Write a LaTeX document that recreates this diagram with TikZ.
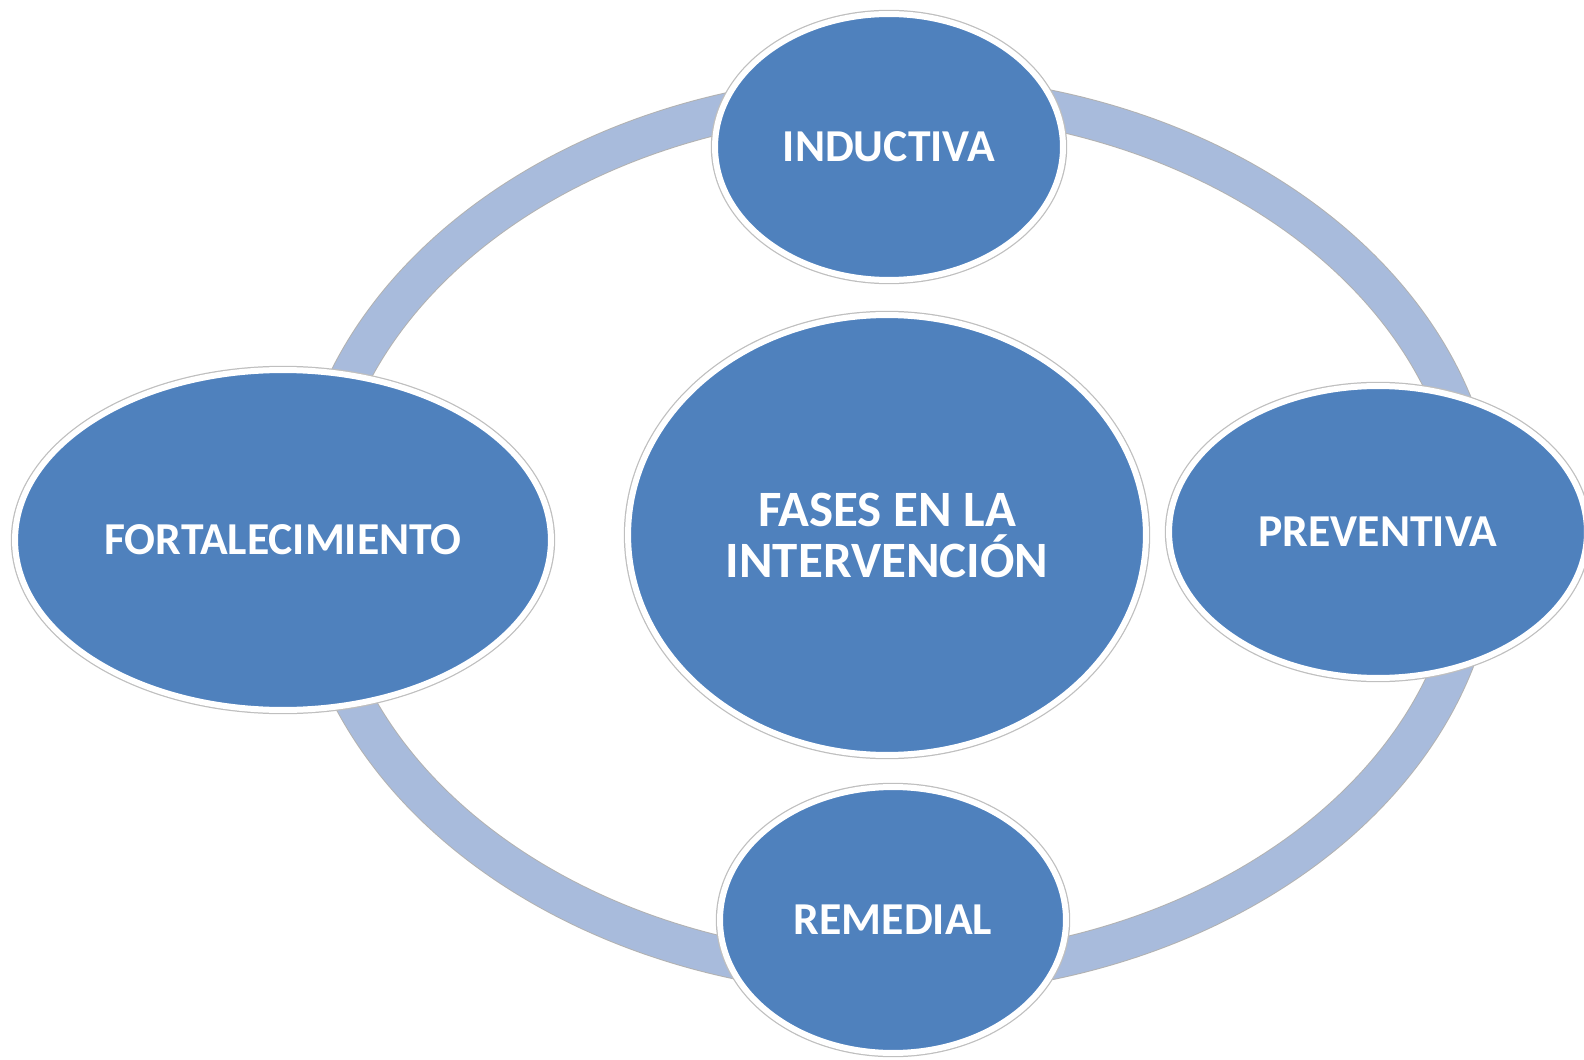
\documentclass[tikz,border=0pt]{standalone}
\usepackage{fontspec}
\setmainfont{Carlito}
\definecolor{PhaseBlue}{RGB}{79, 129, 189}
\definecolor{RingBlue}{RGB}{168, 187, 220}
\usetikzlibrary{positioning, shapes.geometric}

\begin{document}
\begin{tikzpicture}[x=0.02cm, y=-0.02cm,
    phase/.style={ellipse, fill=PhaseBlue, draw=white, line width=0.12cm,
        preaction={draw=black!25, line width=0.17cm},
        inner sep=0pt, text=white, align=center,
        font=\bfseries\fontsize{26}{28}\selectfont}]
    \useasboundingbox (0,0) rectangle (1584,1060);

    % Ring behind the phases
    \draw[RingBlue, line width=0.76cm, preaction={draw=black!30, line width=0.8cm}]
        (895,535) ellipse [x radius=11.68cm, y radius=8.82cm];

    % Phases
    \node[phase, minimum width=10.36cm, minimum height=8.8cm,
        font=\bfseries\fontsize{29}{29}\selectfont] (fases) at (887,535) {FASES EN LA\\INTERVENCIÓN};
    \node[phase, minimum width=6.96cm, minimum height=5.32cm] (ind) at (889,147) {INDUCTIVA};
    \node[phase, minimum width=10.72cm, minimum height=6.8cm] (fort) at (283,540) {FORTALECIMIENTO};
    \node[phase, minimum width=8.36cm, minimum height=5.84cm] (prev) at (1378,532) {PREVENTIVA};
    \node[phase, minimum width=6.92cm, minimum height=5.32cm] (rem) at (893,920) {REMEDIAL};
\end{tikzpicture}
\end{document}
